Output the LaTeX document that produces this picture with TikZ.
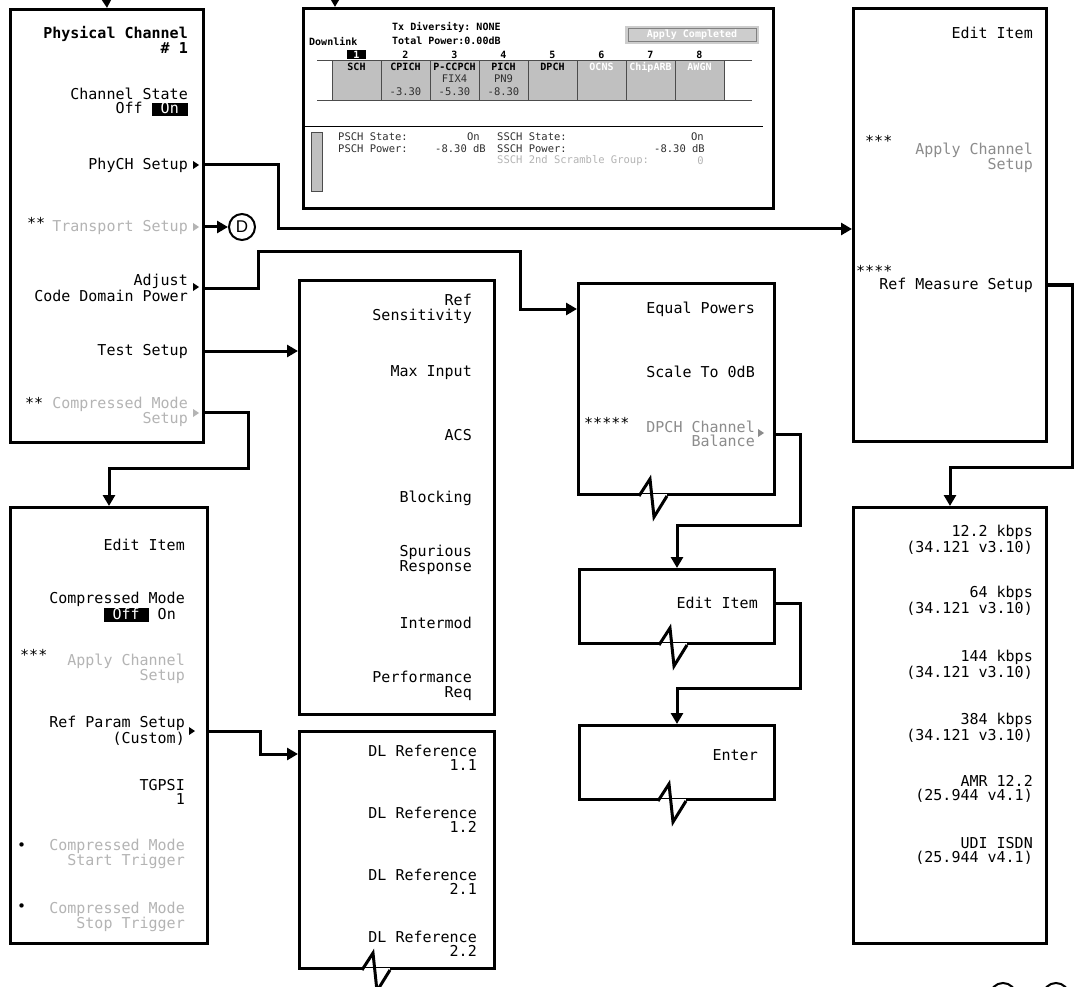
\documentclass[tikz,border=0pt]{standalone}
\usepackage{fontspec}
\setmonofont{DejaVu Sans Mono}
\newfontfamily\arialfont{Liberation Sans}
\usetikzlibrary{arrows.meta,calc}
\definecolor{dimtext}{HTML}{B4B4B4}
\definecolor{midtext}{HTML}{8C8C8C}
\definecolor{cellgray}{HTML}{C0C0C0}
\definecolor{infotext}{HTML}{303030}
\newcommand{\menufont}{\ttfamily\fontsize{15}{14.5}\selectfont}
\newcommand{\scrfont}{\ttfamily\bfseries\fontsize{10}{14}\selectfont}
\newcommand{\infofont}{\ttfamily\fontsize{10.5}{12}\selectfont}
% inverted (selected) softkey value
\newcommand{\inv}[1]{{\setlength{\fboxsep}{0pt}\colorbox{black}{\rule[-2.5pt]{0pt}{12.5pt}\hspace*{9pt}\textcolor{white}{#1}\hspace*{9pt}}}}
% small submenu triangle, left tip at (x,y)
\newcommand{\submark}[3][black]{\fill[#1] (#2,#3) ++(0,-4) -- ++(6,4) -- ++(-6,4) -- cycle;}
% torn corner at the bottom edge of a box
\newcommand{\notch}[2]{%
  \fill[white] ($(#1.south west)+(#2,-2.5)$) rectangle ($(#1.south west)+(#2+28,2.5)$);
  \draw[line width=3pt] ($(#1.south west)+(#2,0)$) -- ++(11,-17) -- ++(4,38) -- ++(13,-21);}

\begin{document}
\begin{tikzpicture}[x=1pt, y=-1pt, >={Triangle[length=11pt,width=12pt]},
    menubox/.style={draw, line width=3pt, anchor=north west, inner sep=0pt, fill=white},
    item/.style={anchor=east, align=right, inner sep=0pt, font=\menufont},
    dimitem/.style={item, text=dimtext},
    miditem/.style={item, text=midtext},
    stars/.style={anchor=west, inner sep=0pt, font=\menufont},
    scr/.style={inner sep=0pt, font=\scrfont},
    info/.style={inner sep=0pt, font=\infofont, text=infotext},
    conn/.style={line width=3pt, ->}]
  \useasboundingbox (0,0) rectangle (1074,987);

  % menu boxes
  \node[menubox, minimum width=193pt, minimum height=433pt] (phys)  at (9,8)     {};
  \node[menubox, minimum width=470pt, minimum height=200pt] (scr)   at (302,7)   {};
  \node[menubox, minimum width=193pt, minimum height=433pt] (ew)    at (852,7)   {};
  \node[menubox, minimum width=195pt, minimum height=434pt] (tests) at (298,279) {};
  \node[menubox, minimum width=196pt, minimum height=211pt] (eqp)   at (577,282) {};
  \node[menubox, minimum width=195pt, minimum height=74pt]  (ei)    at (578,568) {};
  \node[menubox, minimum width=195pt, minimum height=74pt]  (ent)   at (578,724) {};
  \node[menubox, minimum width=197pt, minimum height=436pt] (cm)    at (9,506)   {};
  \node[menubox, minimum width=195pt, minimum height=237pt] (dl)    at (298,730) {};
  \node[menubox, minimum width=193pt, minimum height=436pt] (rates) at (852,506) {};
  \notch{eqp}{62}
  \notch{ei}{81}
  \notch{ent}{80}
  \notch{dl}{64}

  % physical channel menu
  \node[item, font=\menufont\bfseries] (physt) at (188,40) {Physical Channel\\\# 1};
  \node[item]    (chst)  at (188,102) {Channel State\\Off \inv{On}};
  \node[item]    (phych) at (188,165) {PhyCH Setup};
  \node[dimitem] (trans) at (188,227) {Transport Setup};
  \node[stars]   (st1)   at (27,223)  {**};
  \node[item]    (adj)   at (188,288) {Adjust\\Code Domain Power};
  \node[item]    (test)  at (188,351) {Test Setup};
  \node[dimitem] (cmps)  at (188,412) {Compressed Mode\\Setup};
  \node[stars]   (st2)   at (25,403)  {**};
  \submark{193}{165}
  \submark[dimtext]{193}{227}
  \submark{193}{287}
  \submark[dimtext]{193}{413}
  \node[circle, draw, line width=2pt, minimum size=26pt, inner sep=0pt,
        font=\arialfont\fontsize{17}{17}\selectfont] (dref) at (242,227) {D};

  % downlink screen
  \node[scr, anchor=west] (dlk) at (309,42) {Downlink};
  \node[scr, anchor=west, align=left] (txd) at (392,34) {Tx Diversity: NONE\\Total Power:0.00dB};
  \fill[cellgray!80] (625,26) rectangle (759,44);
  \draw[gray, line width=1pt] (628,28.5) rectangle (756,41.5);
  \node[scr, text=white] (apc) at (692,35) {Apply Completed};
  \node[scr, fill=black, text=white, minimum width=19pt, minimum height=9pt] (num1) at (356.5,54.5) {1};
  \foreach \i in {2,...,8}
    \node[scr] (num\i) at (307.5+49*\i,55) {\i};
  \draw[gray!60!black, line width=1pt] (317,61) -- (752,61) (317,101) -- (752,101);
  \foreach \i in {0,...,7}
    \filldraw[fill=cellgray, draw=gray!60!black, line width=1pt] (332+49*\i,61) rectangle (381+49*\i,101);
  \foreach \lab [count=\i from 0] in {SCH,CPICH,P-CCPCH,PICH,DPCH}
    \node[scr] (ch\i) at (356.5+49*\i,67) {\lab};
  \foreach \lab [count=\i from 5] in {OCNS,ChipARB,AWGN}
    \node[scr, text=white] (ch\i) at (356.5+49*\i,67) {\lab};
  \node[info] (fix) at (454.5,79) {FIX4};
  \node[info] (pn)  at (503.5,79) {PN9};
  \node[info] (pw2) at (405.5,92) {-3.30};
  \node[info] (pw3) at (454.5,92) {-5.30};
  \node[info] (pw4) at (503.5,92) {-8.30};
  \draw[line width=1pt] (302,127) -- (763,127);
  \filldraw[fill=cellgray, draw=gray!60!black, line width=0.8pt] (311,132) rectangle (322,191);
  \node[info, anchor=west] (pst)  at (338,137) {PSCH State:};
  \node[info, anchor=east] (pstv) at (480,137) {On};
  \node[info, anchor=west] (ppw)  at (338,149) {PSCH Power:};
  \node[info, anchor=east] (ppwv) at (486,149) {-8.30 dB};
  \node[info, anchor=west] (sst)  at (497,137) {SSCH State:};
  \node[info, anchor=east] (sstv) at (704,137) {On};
  \node[info, anchor=west] (spw)  at (497,149) {SSCH Power:};
  \node[info, anchor=east] (spwv) at (705,149) {-8.30 dB};
  \node[info, anchor=west, text=dimtext] (sgr)  at (497,161) {SSCH 2nd Scramble Group:};
  \node[info, anchor=east, text=dimtext] (sgrv) at (704,161) {0};

  % edit item menu (right)
  \node[item]    (ewt)    at (1033,33)  {Edit Item};
  \node[miditem] (apply1) at (1033,158) {Apply Channel\\Setup};
  \node[stars]   (st3)    at (865,141)  {***};
  \node[item]    (refm)   at (1033,285) {Ref Measure Setup};
  \node[stars]   (st4)    at (856,271)  {****};

  % test setup menu
  \node[item] (rsens) at (472,309) {Ref\\Sensitivity};
  \node[item] (maxin) at (472,373) {Max Input};
  \node[item] (acs)   at (472,435) {ACS};
  \node[item] (blk)   at (472,498) {Blocking};
  \node[item] (spur)  at (472,560) {Spurious\\Response};
  \node[item] (imod)  at (472,623) {Intermod};
  \node[item] (perf)  at (472,686) {Performance\\Req};

  % code domain power menu
  \node[item]    (eqpw) at (755,309) {Equal Powers};
  \node[item]    (scl)  at (755,372) {Scale To 0dB};
  \node[miditem] (dpch) at (755,434) {DPCH Channel\\Balance};
  \node[stars]   (st5)  at (584,423)  {*****};
  \submark[midtext]{758}{433}
  \node[item] (eit) at (758,603) {Edit Item};
  \node[item] (entt) at (758,755) {Enter};

  % compressed mode menu
  \node[item]    (cmt)  at (185,545) {Edit Item};
  \node[item]    (cmst) at (185,607) {Compressed Mode\\\inv{Off} On\hspace*{9pt}};
  \node[dimitem] (apply2) at (185,669) {Apply Channel\\Setup};
  \node[stars]   (st6)  at (20,655)  {***};
  \node[item]    (refp) at (185,731) {Ref Param Setup\\(Custom)};
  \submark{189}{731}
  \node[item]    (tgp)  at (185,792) {TGPSI\\1};
  \node[dimitem] (strt) at (185,854) {Compressed Mode\\Start Trigger};
  \node[stars]   (bl1)  at (17,847)  {•};
  \node[dimitem] (stop) at (185,917) {Compressed Mode\\Stop Trigger};
  \node[stars]   (bl2)  at (17,908)  {•};

  % DL reference menu
  \node[item] (dl11) at (477,758) {DL Reference\\1.1};
  \node[item] (dl12) at (477,820) {DL Reference\\1.2};
  \node[item] (dl21) at (477,882) {DL Reference\\2.1};
  \node[item] (dl22) at (477,944) {DL Reference\\2.2};

  % ref measure menu
  \node[item] (r122) at (1033,540) {12.2 kbps\\(34.121 v3.10)};
  \node[item] (r64)  at (1033,601) {64 kbps\\(34.121 v3.10)};
  \node[item] (r144) at (1033,665) {144 kbps\\(34.121 v3.10)};
  \node[item] (r384) at (1033,728) {384 kbps\\(34.121 v3.10)};
  \node[item] (ramr) at (1033,789) {AMR 12.2\\(25.944 v4.1)};
  \node[item] (rudi) at (1033,851) {UDI ISDN\\(25.944 v4.1)};

  % page connectors
  \node[circle, draw, line width=2pt, minimum size=26pt] (pga) at (1003,996) {};
  \node[circle, draw, line width=2pt, minimum size=26pt] (pgb) at (1056,996) {};

  % connectors
  \coordinate (topin) at (105.5,-20);
  \coordinate (scrin) at (335,-20);
  \draw[conn] (topin) -- (phys.north);
  \draw[conn] (scrin) -- (scrin |- scr.north);
  \draw[conn] (phys.east |- phych.east) -- ++(73,0) |- (ew.west |- 0,229);
  \draw[conn] (phys.east |- trans.east) -- (dref.west);
  \draw[conn] (phys.east |- adj.east) -- ++(53,0) |- (520,252) |- (eqp.west |- 0,309);
  \draw[conn] (phys.east |- test.east) -- (tests.west |- test.east);
  \draw[conn] (phys.east |- cmps.east) -- ++(43,0) -- ++(0,56) -| (cm.north);
  \draw[conn] (cm.east |- refp.east) -- ++(51,0) |- (dl.west |- 0,754);
  \draw[conn] (eqp.east |- dpch.east) -- ++(24,0) -- ++(0,91) -| (ei.north);
  \draw[conn] (ei.east |- eit.east) -- ++(24,0) -- ++(0,85) -| (ent.north);
  \draw[conn] (ew.east |- refm.east) -- ++(24,0) -- ++(0,182) -| (rates.north);
\end{tikzpicture}
\end{document}
